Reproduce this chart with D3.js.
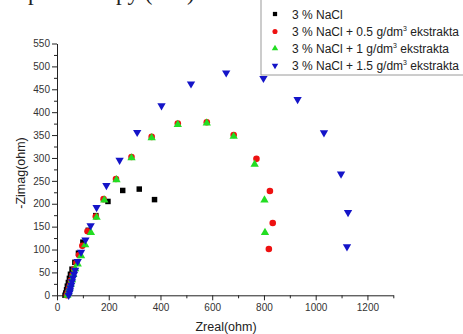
<!DOCTYPE html>
<html>
<head>
<meta charset="utf-8">
<script src="https://cdn.jsdelivr.net/npm/d3@7"></script>
<style>
  body { margin: 0; background: #fff; }
  svg { display: block; }
</style>
</head>
<body>
<div id="plot"></div>
<script>
// Nyquist data: [Zreal, -Zimag] in ohm
var nacl = [[31,0],[34,5],[37,12],[40,20],[44,28],[48,37],[52,46],[58,57],[69,72],[83,92],[100,116],[121,142],[150,174],[197,205],[254,229],[318,232],[377,209]];
var ext05 = [[38,0],[42,6],[46,14],[50,22],[54,32],[60,44],[66,57],[75,71],[85,88],[98,108],[118,140],[150,172],[180,210],[228,254],[288,302],[366,346],[467,375],[579,378],[683,350],[771,298],[823,228],[834,158],[819,101]];
var ext1 = [[40,0],[44,7],[48,15],[53,24],[58,34],[63,45],[70,58],[80,68],[93,86],[109,110],[131,137],[153,170],[183,208],[230,252],[288,300],[366,344],[467,373],[579,376],[683,347],[764,286],[802,208],[804,137]];
var ext15 = [[45,0],[48,5],[50,10],[52,16],[55,22],[58,30],[62,38],[66,46],[70,55],[80,74],[93,94],[110,121],[130,152],[153,192],[191,240],[242,295],[310,356],[404,414],[518,462],[654,486],[798,474],[930,428],[1032,355],[1098,265],[1125,181],[1121,106]];

var xTicks = [0, 200, 400, 600, 800, 1000, 1200];
var yTicks = [0, 50, 100, 150, 200, 250, 300, 350, 400, 450, 500, 550];
var legendLabels = ["3 % NaCl", "3 % NaCl + 0.5 g/dm", "3 % NaCl + 1 g/dm", "3 % NaCl + 1.5 g/dm"];

var width = 463;
var height = 334;

var svg = d3.select("#plot")
  .append("svg")
  .attr("width", width)
  .attr("height", height);

// cropped caption line from the page above the figure (only descenders show)
svg.append("text")
  .attr("x", 19)
  .attr("y", -0.5)
  .attr("font-family", "Liberation Serif, Times New Roman, serif")
  .attr("font-size", 23)
  .attr("fill", "#222")
  .text("spectroscopy (EIS)");

var x = d3.scaleLinear().domain([0, 1300]).range([57, 393.3]);
var y = d3.scaleLinear().domain([0, 550]).range([295.3, 43.5]);

// minor ticks first
svg.append("g")
  .attr("transform", "translate(0," + y(0) + ")")
  .call(d3.axisBottom(x).tickValues(d3.range(100, 1301, 200)).tickSize(3).tickFormat(""))
  .call(g => g.select(".domain").remove());
svg.append("g")
  .attr("transform", "translate(" + x(0) + ",0)")
  .call(d3.axisLeft(y).tickValues(d3.range(25, 550, 50)).tickSize(3).tickFormat(""))
  .call(g => g.select(".domain").remove());

var xAxis = svg.append("g")
  .attr("transform", "translate(0," + y(0) + ")")
  .call(d3.axisBottom(x).tickValues(xTicks).tickSize(5).tickPadding(4).tickSizeOuter(0).tickFormat(d3.format("d")));
var yAxis = svg.append("g")
  .attr("transform", "translate(" + x(0) + ",0)")
  .call(d3.axisLeft(y).tickValues(yTicks).tickSize(5).tickPadding(2).tickSizeOuter(0).tickFormat(d3.format("d")));

svg.selectAll(".tick line, .domain").attr("stroke", "#222");
svg.selectAll(".tick text")
  .attr("font-family", "Liberation Sans, Arial, sans-serif")
  .attr("font-size", 10)
  .attr("fill", "#333");

svg.append("text")
  .attr("x", 226)
  .attr("y", 331)
  .attr("text-anchor", "middle")
  .attr("font-family", "Liberation Sans, Arial, sans-serif")
  .attr("font-size", 12.5)
  .attr("fill", "#222")
  .text("Zreal(ohm)");

svg.append("text")
  .attr("transform", "translate(25,173) rotate(-90)")
  .attr("text-anchor", "middle")
  .attr("font-family", "Liberation Sans, Arial, sans-serif")
  .attr("font-size", 12.5)
  .attr("fill", "#222")
  .text("-Zimag(ohm)");

var series = [
  {data: nacl, color: "#000000", type: d3.symbolSquare, size: 30, rot: 0},
  {data: ext05, color: "#ee1111", type: d3.symbolCircle, size: 34, rot: 0},
  {data: ext1, color: "#22dd22", type: d3.symbolTriangle, size: 30, rot: 0},
  {data: ext15, color: "#1414c8", type: d3.symbolTriangle, size: 30, rot: 180}
];

series.forEach(function(s) {
  svg.append("g")
    .selectAll("path")
    .data(s.data)
    .enter()
    .append("path")
    .attr("d", d3.symbol().type(s.type).size(s.size))
    .attr("transform", d => "translate(" + x(d[0]) + "," + y(d[1]) + ") rotate(" + s.rot + ")")
    .attr("fill", s.color);
});

// legend box
var legend = svg.append("g");
legend.append("rect")
  .attr("x", 261)
  .attr("y", -2)
  .attr("width", 220)
  .attr("height", 77)
  .attr("fill", "#fff")
  .attr("stroke", "#9a9a9a")
  .attr("stroke-width", 1);

var rowY = [14, 31.5, 48.5, 65.5];
series.forEach(function(s, i) {
  legend.append("path")
    .attr("d", d3.symbol().type(s.type).size(s.size * 0.6))
    .attr("transform", "translate(275," + rowY[i] + ") rotate(" + s.rot + ")")
    .attr("fill", s.color);
  var t = legend.append("text")
    .attr("x", 292)
    .attr("y", rowY[i] + 4.5)
    .attr("font-family", "Liberation Sans, Arial, sans-serif")
    .attr("font-size", 12)
    .attr("fill", "#222")
    .text(legendLabels[i]);
  if (i > 0) {
    t.append("tspan").attr("dy", -5).attr("font-size", 7).text("3");
    t.append("tspan").attr("dy", 5).text(" ekstrakta");
  }
});
</script>
</body>
</html>
